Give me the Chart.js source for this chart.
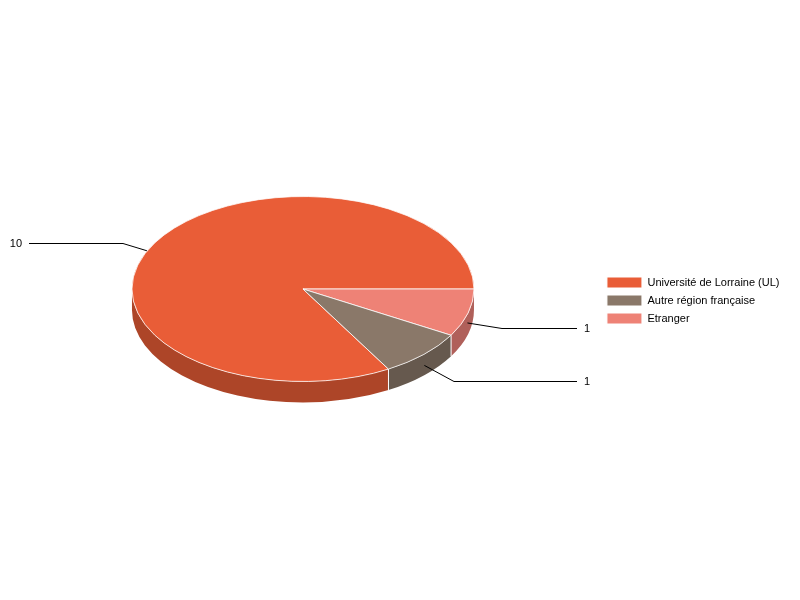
<!DOCTYPE html>
<html>
<head>
<meta charset="utf-8">
<style>html,body{margin:0;padding:0;background:#fff}canvas{display:block}</style>
<script src="https://cdn.jsdelivr.net/npm/chart.js@4"></script>
</head>
<body>
<canvas id="c" width="800" height="600"></canvas>
<script>
const categories = ["Université de Lorraine (UL)", "Autre région française", "Etranger"];
const values = [10, 1, 1];
const topColors = ["#E95D37", "#8A7869", "#EE8276"];
const wallColors = ["#AD4528", "#66594E", "#B0605A"];
// slices run anticlockwise in the reference; Chart.js runs clockwise, so walk them backwards after the first
const sliceOrder = [0, 2, 1];

const FONT = '11px "Liberation Sans", Arial, sans-serif';
const SQUASH = 92.5 / 171, DEPTH = 21, PIE_CY = 289;
// leader geometry per category: anchor nudge, elbow offset, end of line, label x
const leaders = [
  {nudge:[-8,8],  elbow:[-24,-8], endX:29,  textX:22,  align:"right"},
  {nudge:[0.5,11],elbow:[30,16],  endX:577, textX:584, align:"left"},
  {nudge:[-0.7,10],elbow:[35,5],  endX:577, textX:584, align:"left"}
];

const pie3d = {
  id: "pie3d",
  beforeDatasetsDraw(chart) {
    const ctx = chart.ctx, arcs = chart.getDatasetMeta(0).data;
    const TAU = Math.PI * 2;
    ctx.save();
    arcs.forEach((a, i) => {
      const r = a.outerRadius, ry = r * SQUASH;
      [0, TAU].forEach(k => {
        const s = Math.max(a.startAngle, k), e = Math.min(a.endAngle, k + Math.PI);
        if (e <= s) return;
        ctx.beginPath();
        ctx.ellipse(a.x, PIE_CY, r, ry, 0, s - k, e - k);
        ctx.ellipse(a.x, PIE_CY + DEPTH, r, ry, 0, e - k, s - k, true);
        ctx.closePath();
        ctx.fillStyle = wallColors[sliceOrder[i]];
        ctx.fill();
      });
    });
    ctx.strokeStyle = "#fff";
    ctx.lineWidth = 1;
    arcs.forEach(a => {
      const r = a.outerRadius, ry = r * SQUASH;
      const t = a.endAngle % TAU;
      if (t > 0.01 && t < Math.PI - 0.01) {
        const x = a.x + r * Math.cos(t), y = PIE_CY + ry * Math.sin(t);
        ctx.beginPath(); ctx.moveTo(x, y); ctx.lineTo(x, y + DEPTH); ctx.stroke();
      }
    });
    ctx.restore();
    const c = arcs[0];
    ctx.save();
    ctx.translate(c.x, PIE_CY);
    ctx.scale(1, SQUASH);
    ctx.translate(-c.x, -c.y);
  },
  afterDatasetsDraw(chart) {
    const ctx = chart.ctx, arcs = chart.getDatasetMeta(0).data;
    ctx.restore();
    ctx.save();
    ctx.strokeStyle = "#000";
    ctx.lineWidth = 1;
    ctx.fillStyle = "#000";
    ctx.font = FONT;
    ctx.textBaseline = "middle";
    arcs.forEach((a, i) => {
      const idx = sliceOrder[i];
      const m = (a.startAngle + a.endAngle) / 2, L = leaders[idx];
      const x0 = a.x + a.outerRadius * Math.cos(m) + L.nudge[0];
      const y0 = PIE_CY + a.outerRadius * SQUASH * Math.sin(m) + L.nudge[1];
      const ex = Math.round(x0 + L.elbow[0]), ey = Math.round(y0 + L.elbow[1]) + 0.5;
      ctx.beginPath();
      ctx.moveTo(x0, y0);
      ctx.lineTo(ex, ey);
      ctx.lineTo(L.endX, ey);
      ctx.stroke();
      ctx.textAlign = L.align;
      ctx.fillText(String(values[idx]), L.textX, ey + 0.5);
    });
    ctx.restore();
  }
};

new Chart(document.getElementById("c"), {
  type: "pie",
  data: {
    labels: sliceOrder.map(i => categories[i]),
    datasets: [{
      data: sliceOrder.map(i => values[i]),
      backgroundColor: sliceOrder.map(i => topColors[i]),
      borderColor: "#fff",
      borderWidth: 1,
      radius: 171,
      rotation: 150,
      hoverOffset: 0
    }]
  },
  options: {
    responsive: false,
    animation: false,
    layout: {padding: {left: 6, right: 10.5, top: 1, bottom: 0}},
    plugins: {
      tooltip: {enabled: false},
      legend: {
        position: "right",
        labels: {
          boxWidth: 35,
          boxHeight: 11,
          padding: 7,
          color: "#000",
          font: {family: '"Liberation Sans", Arial, sans-serif', size: 11},
          sort: (a, b) => categories.indexOf(a.text) - categories.indexOf(b.text)
        }
      }
    }
  },
  plugins: [pie3d]
});
</script>
</body>
</html>
